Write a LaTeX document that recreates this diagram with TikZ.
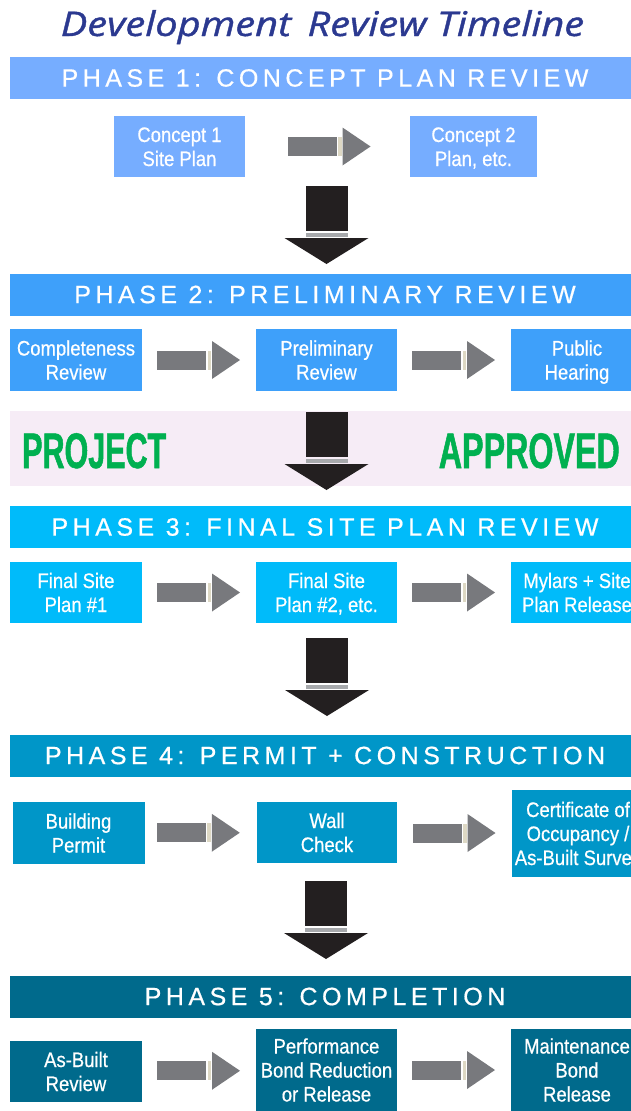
\documentclass[tikz,border=0pt]{standalone}
\usepackage{fontspec}
\setmainfont{Liberation Sans}
\newfontfamily\titlefont[FakeStretch=1.17,FakeBold=1.2]{Open Sans}
\newfontfamily\boxfont[FakeStretch=0.88,FakeBold=0.6]{Liberation Sans}
\newfontfamily\phasefont[LetterSpace=18,FakeBold=0.6]{Liberation Sans}
\newfontfamily\bigfont[FakeStretch=0.61,FakeBold=1]{Liberation Sans}
\newfontfamily\bigfontwide[FakeStretch=0.645,FakeBold=1]{Liberation Sans}
\usetikzlibrary{calc}

\definecolor{titleblue}{RGB}{43,57,144}
\definecolor{phaseA}{RGB}{118,173,255}
\definecolor{phaseB}{RGB}{62,160,250}
\definecolor{phaseC}{RGB}{0,187,250}
\definecolor{phaseD}{RGB}{0,150,200}
\definecolor{phaseE}{RGB}{0,106,140}
\definecolor{arrowgray}{RGB}{120,121,125}
\definecolor{arrowbeige}{RGB}{221,216,196}
\definecolor{arrowblack}{RGB}{35,31,32}
\definecolor{bargray}{RGB}{167,169,172}
\definecolor{bandpink}{RGB}{246,236,246}
\definecolor{approvegreen}{RGB}{0,176,80}

% struts that fix the top of the first line and the bottom of the last line
\newcommand\topst{\rule{0pt}{20pt}}
\newcommand\botst{\rule[-5pt]{0pt}{5pt}}

\tikzset{
  phasebar/.style={fill=#1, inner sep=0pt, minimum width=630pt, minimum height=42pt,
    text=white, font=\phasefont\fontsize{25}{30}\selectfont},
  stepbox/.style={fill=#1, inner sep=0pt, text=white, align=center,
    font=\boxfont\fontsize{21}{24}\selectfont},
  blockarrow/.pic={
    \fill[arrowgray] (-42,-9.5) rectangle (7,9.5);
    \fill[arrowbeige] (8.5,-9.5) rectangle (12,9.5);
    \fill[arrowgray] (13,-19) -- (41,0) -- (13,19) -- cycle;
  },
  downarrow/.pic={
    \fill[arrowblack] (-21,0) rectangle (21,45);
    \fill[bargray] (-21,47) rectangle (21,51);
    \fill[arrowblack] (-42,52) -- (42,52) -- (0,78) -- cycle;
  },
  bigword/.style={text=approvegreen, inner sep=0pt}
}

\begin{document}
\begin{tikzpicture}[x=1pt, y=-1pt]
\useasboundingbox (0,0) rectangle (631,1111);

% title
\node[anchor=base, text=titleblue, inner sep=0pt,
  font=\titlefont\itshape\fontsize{34}{40}\selectfont] (title) at (322.5,36)
  {Development\hspace{6pt} Review Timeline};

% phase 1
\node[phasebar=phaseA] (ph1) at (325,78) {PHASE 1: CONCEPT PLAN REVIEW};
\node[stepbox=phaseA, minimum width=131pt, minimum height=61pt] (c1) at (179.5,146.5)
  {\topst Concept 1\\Site Plan\botst};
\node[stepbox=phaseA, minimum width=127pt, minimum height=61pt] (c2) at (473.5,146.5)
  {\topst Concept 2\\Plan, etc.\botst};
\path ($(c1.east)!0.5!(c2.west)$) ++(2,0) pic {blockarrow};

\coordinate (d1) at (326.5,186);
\path (d1) pic {downarrow};

% phase 2
\node[phasebar=phaseB] (ph2) at (325,294.5) {PHASE 2: PRELIMINARY REVIEW};
\node[stepbox=phaseB, minimum width=132pt, minimum height=62pt] (b1) at (76,360)
  {\topst Completeness\\Review\botst};
\node[stepbox=phaseB, minimum width=141pt, minimum height=62pt] (b2) at (326.5,360)
  {\topst Preliminary\\Review\botst};
\node[stepbox=phaseB, minimum width=132pt, minimum height=62pt] (b3) at (577,360)
  {\topst Public\\Hearing\botst};
\path ($(b1.east)!0.5!(b2.west)$) pic {blockarrow};
\path ($(b2.east)!0.5!(b3.west)$) pic {blockarrow};

% approval band
\fill[bandpink] (10,411) rectangle (640,486);
\node[bigword, anchor=base west, font=\bigfont\bfseries\fontsize{50}{50}\selectfont]
  (project) at (22,468) {PROJECT};
\node[bigword, anchor=base east, font=\bigfontwide\bfseries\fontsize{50}{50}\selectfont]
  (approved) at (620,468) {APPROVED};
\coordinate (d2) at (326.5,412);
\path (d2) pic {downarrow};

% phase 3
\node[phasebar=phaseC] (ph3) at (325,527) {PHASE 3: FINAL SITE PLAN REVIEW};
\node[stepbox=phaseC, minimum width=132pt, minimum height=61pt] (f1) at (76,592.5)
  {\topst Final Site\\Plan \#1\botst};
\node[stepbox=phaseC, minimum width=141pt, minimum height=61pt] (f2) at (326.5,592.5)
  {\topst Final Site\\Plan \#2, etc.\botst};
\node[stepbox=phaseC, minimum width=132pt, minimum height=61pt] (f3) at (577,592.5)
  {\topst Mylars + Site\\Plan Release\botst};
\path ($(f1.east)!0.5!(f2.west)$) pic {blockarrow};
\path ($(f2.east)!0.5!(f3.west)$) pic {blockarrow};

\coordinate (d3) at (327,638);
\path (d3) pic {downarrow};

% phase 4
\node[phasebar=phaseD] (ph4) at (325,755.5) {PHASE 4: PERMIT + CONSTRUCTION};
\node[stepbox=phaseD, minimum width=132pt, minimum height=62pt] (w1) at (78.5,833)
  {\topst Building\\Permit\botst};
\node[stepbox=phaseD, minimum width=140pt, minimum height=61pt] (w2) at (327,832.5)
  {\topst Wall\\Check\botst};
\node[stepbox=phaseD, minimum width=132pt, minimum height=87pt] (w3) at (578,833.5)
  {\topst Certificate of\\Occupancy /\\As-Built Survey\botst};
\path ($(w1.east)!0.5!(w2.west)$) ++(-2,0) pic {blockarrow};
\path ($(w2.east)!0.5!(w3.west)$) pic {blockarrow};

\coordinate (d4) at (326,881);
\path (d4) pic {downarrow};

% phase 5
\node[phasebar=phaseE] (ph5) at (325,996.5) {PHASE 5: COMPLETION};
\node[stepbox=phaseE, minimum width=132pt, minimum height=61pt] (e1) at (76,1071.5)
  {\topst As-Built\\Review\botst};
\node[stepbox=phaseE, minimum width=141pt, minimum height=82pt] (e2) at (326.5,1070)
  {\topst Performance\\Bond Reduction\\or Release\botst};
\node[stepbox=phaseE, minimum width=132pt, minimum height=82pt] (e3) at (577,1070)
  {\topst Maintenance\\Bond\\Release\botst};
\path ($(e1.east)!0.5!(e2.west)$) pic {blockarrow};
\path ($(e2.east)!0.5!(e3.west)$) pic {blockarrow};
\end{tikzpicture}
\end{document}
